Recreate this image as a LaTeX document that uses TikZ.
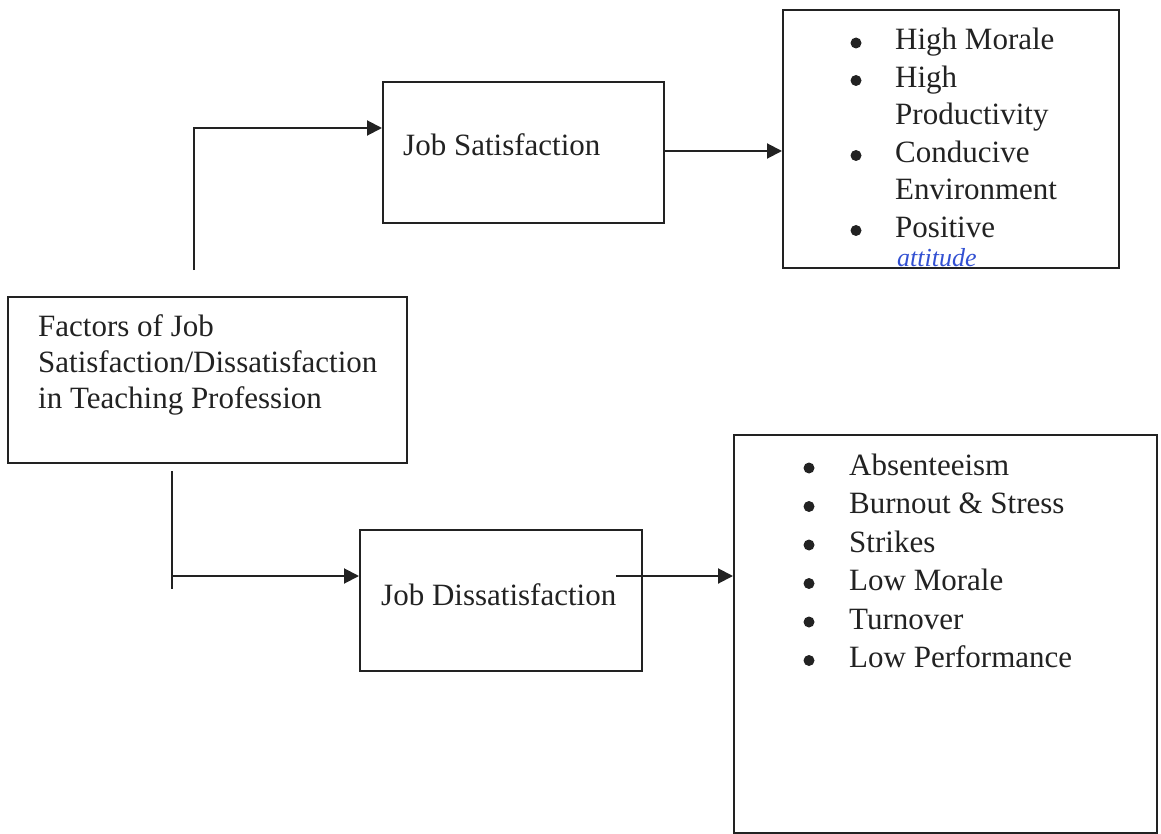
\documentclass[tikz,border=0pt]{standalone}
\usepackage{fontspec}
\setmainfont{Liberation Serif}
\usetikzlibrary{arrows.meta}
\definecolor{ink}{RGB}{34,34,34}
\definecolor{pen}{RGB}{50,80,210}
\begin{document}
\begin{tikzpicture}[x=1pt,y=-1pt,
  box/.style={draw=ink,line width=2pt,minimum width=#1,anchor=north west,inner sep=0pt},
  lbl/.style={anchor=base west,inner sep=0pt,text=ink,font=\fontsize{31}{37.5}\selectfont},
  wire/.style={draw=ink,line width=2pt},
  arr/.style={wire,-{Triangle[length=15pt,width=15pt]}},
  dot/.style={circle,fill=ink,inner sep=0pt,minimum size=11pt}]
\useasboundingbox (0,0) rectangle (1161,834);
% boxes
\node[box=399pt,minimum height=166pt] (fac) at (7,296) {};
\node[box=281pt,minimum height=141pt] (js) at (382,81) {};
\node[box=282pt,minimum height=141pt] (jd) at (359,529) {};
\node[box=336pt,minimum height=258pt] (pos) at (782,9) {};
\node[box=423pt,minimum height=398pt] (neg) at (733,434) {};
% labels
\node[lbl] (f1) at (38,336) {Factors of Job};
\node[lbl] (f2) at (38,372) {Satisfaction/Dissatisfaction};
\node[lbl] (f3) at (38,408) {in Teaching Profession};
\node[lbl] (jst) at (403,156) {Job Satisfaction};
\node[lbl] (jdt) at (381,605) {Job Dissatisfaction};
% positive list
\foreach \n/\y/\t in {p1/50/High Morale,p2/87.5/High,p3/125/Productivity,p4/162.5/Conducive,p5/200/Environment,p6/237.5/Positive}
  \node[lbl] (\n) at (895,\y) {\t};
\foreach \n/\y in {b1/50,b2/87.5,b4/162.5,b6/237.5}
  \node[dot] (\n) at (856,\y-7) {};
\node[anchor=base west,inner sep=0pt,text=pen,font=\fontsize{26}{26}\selectfont\itshape] (hw) at (897,266) {attitude};
% negative list
\foreach \n/\y/\t in {n1/475/Absenteeism,n2/513.5/Burnout \& Stress,n3/552/Strikes,n4/590.5/Low Morale,n5/629/Turnover,n6/667.5/Low Performance}
  \node[lbl] (\n) at (849,\y) {\t};
\foreach \n/\y in {c1/475,c2/513.5,c3/552,c4/590.5,c5/629,c6/667.5}
  \node[dot] (\n) at (809,\y-7) {};
% connectors
\coordinate (s1) at (194,270);
\coordinate (e1) at (382,128);
\draw[arr] (s1) |- (e1);
\coordinate (a2) at (663,151);
\coordinate (e2) at (782,151);
\draw[arr] (a2) -- (e2);
\coordinate (s3) at (172,471);
\coordinate (t3) at (172,589);
\draw[wire] (s3) -- (t3);
\coordinate (m3) at (172,576);
\coordinate (e3) at (359,576);
\draw[arr] (m3) -- (e3);
\coordinate (a4) at (616,576);
\coordinate (e4) at (733,576);
\draw[arr] (a4) -- (e4);
\end{tikzpicture}
\end{document}
